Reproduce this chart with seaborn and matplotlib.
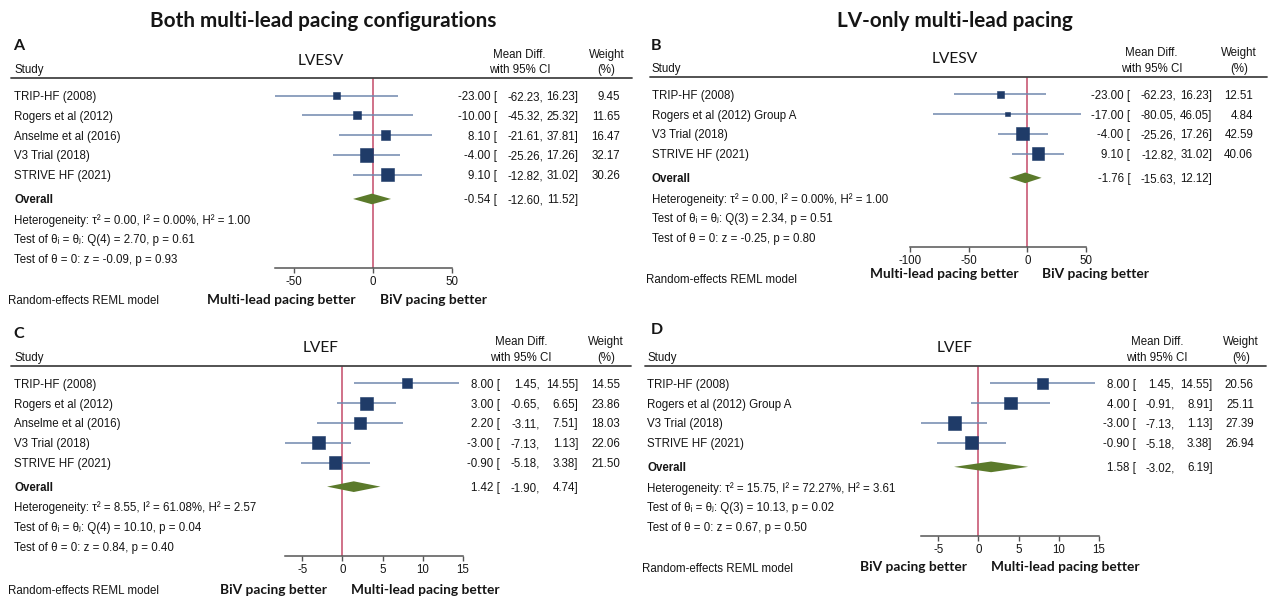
import numpy as np
import pandas as pd
import matplotlib.pyplot as plt
import seaborn as sns
from matplotlib import transforms
from matplotlib.lines import Line2D

sns.set_theme(style='white')
plt.rcParams['font.family'] = ['Liberation Sans', 'DejaVu Sans']
plt.rcParams['axes.unicode_minus'] = False

# ---- data ----
studies_a = ['TRIP-HF (2008)', 'Rogers et al (2012)', 'Anselme et al (2016)', 'V3 Trial (2018)', 'STRIVE HF (2021)']
md_a = [-23.00, -10.00, 8.10, -4.00, 9.10]
lo_a = [-62.23, -45.32, -21.61, -25.26, -12.82]
hi_a = [16.23, 25.32, 37.81, 17.26, 31.02]
wt_a = [9.45, 11.65, 16.47, 32.17, 30.26]
overall_a = [-0.54, -12.60, 11.52]
stats_a = ['Heterogeneity: τ² = 0.00, I² = 0.00%, H² = 1.00',
           'Test of θᵢ = θⱼ: Q(4) = 2.70, p = 0.61',
           'Test of θ = 0: z = -0.09, p = 0.93']
ticks_a = [-50, 0, 50]

studies_b = ['TRIP-HF (2008)', 'Rogers et al (2012) Group A', 'V3 Trial (2018)', 'STRIVE HF (2021)']
md_b = [-23.00, -17.00, -4.00, 9.10]
lo_b = [-62.23, -80.05, -25.26, -12.82]
hi_b = [16.23, 46.05, 17.26, 31.02]
wt_b = [12.51, 4.84, 42.59, 40.06]
overall_b = [-1.76, -15.63, 12.12]
stats_b = ['Heterogeneity: τ² = 0.00, I² = 0.00%, H² = 1.00',
           'Test of θᵢ = θⱼ: Q(3) = 2.34, p = 0.51',
           'Test of θ = 0: z = -0.25, p = 0.80']
ticks_b = [-100, -50, 0, 50]

studies_c = ['TRIP-HF (2008)', 'Rogers et al (2012)', 'Anselme et al (2016)', 'V3 Trial (2018)', 'STRIVE HF (2021)']
md_c = [8.00, 3.00, 2.20, -3.00, -0.90]
lo_c = [1.45, -0.65, -3.11, -7.13, -5.18]
hi_c = [14.55, 6.65, 7.51, 1.13, 3.38]
wt_c = [14.55, 23.86, 18.03, 22.06, 21.50]
overall_c = [1.42, -1.90, 4.74]
stats_c = ['Heterogeneity: τ² = 8.55, I² = 61.08%, H² = 2.57',
           'Test of θᵢ = θⱼ: Q(4) = 10.10, p = 0.04',
           'Test of θ = 0: z = 0.84, p = 0.40']
ticks_c = [-5, 0, 5, 10, 15]

studies_d = ['TRIP-HF (2008)', 'Rogers et al (2012) Group A', 'V3 Trial (2018)', 'STRIVE HF (2021)']
md_d = [8.00, 4.00, -3.00, -0.90]
lo_d = [1.45, -0.91, -7.13, -5.18]
hi_d = [14.55, 8.91, 1.13, 3.38]
wt_d = [20.56, 25.11, 27.39, 26.94]
overall_d = [1.58, -3.02, 6.19]
stats_d = ['Heterogeneity: τ² = 15.75, I² = 72.27%, H² = 3.61',
           'Test of θᵢ = θⱼ: Q(3) = 10.13, p = 0.02',
           'Test of θ = 0: z = 0.67, p = 0.50']
ticks_d = [-5, 0, 5, 10, 15]

# ---- colours / sizes ----
SQ = '#1f3b68'
CI = '#7088ad'
REF = '#c44a68'
DIA = '#5b7a2b'
TXT = '#151515'
AXC = '#555555'
BOLD = 'Lato'
STEP = 19.8

W, H = 1270, 601
fig = plt.figure(figsize=(W / 100, H / 100), dpi=100)
fig.patch.set_facecolor('white')
renderer = fig.canvas.get_renderer()


def fx(x):
    return x / W


def fy(y):
    return 1 - y / H


def fit(t, width):
    w = t.get_window_extent(renderer).width
    t.set_fontsize(t.get_fontsize() * width / w)
    return t.get_fontsize()


# body text size: heterogeneity line is ~235 px wide in the reference
_tmp = fig.text(0, 0, stats_a[0], fontsize=10)
FS = fit(_tmp, 235)
_tmp.remove()

bold_labels = []


def draw_panel(studies, md, lo, hi, wt, overall, stats, ticks, metric, lay):
    n = len(studies)
    top_r, bot_r = -0.88, n + 3.72
    y_top = lay['row0'] + top_r * STEP
    y_bot = lay['row0'] + bot_r * STEP
    x0, x1 = lay['plot']
    ax = fig.add_axes([fx(x0), fy(y_bot), (x1 - x0) / W, (y_bot - y_top) / H])
    ax.patch.set_visible(False)
    ax.set_xlim(min(min(lo), min(ticks)), max(max(hi), max(ticks)))
    ax.set_ylim(bot_r, top_r)
    rows = np.arange(n)

    ax.axvline(0, color=REF, lw=1.1, zorder=1)
    ax.hlines(rows, lo, hi, color=CI, lw=1.1, zorder=2)
    side = 13.2 * np.sqrt(np.array(wt) / max(wt))
    df = pd.DataFrame({'md': md, 'row': rows})
    sns.scatterplot(data=df, x='md', y='row', marker='s', s=(side * 0.72) ** 2,
                    color=SQ, edgecolor=SQ, linewidth=0.4, ax=ax, legend=False, zorder=3)
    m, l, h = overall
    yo = n + 0.22
    ax.fill([l, m, h, m], [yo, yo - 0.27, yo, yo + 0.27], color=DIA, lw=0, zorder=3)

    for s in ['left', 'top', 'right']:
        ax.spines[s].set_visible(False)
    ax.spines['bottom'].set_color(AXC)
    ax.spines['bottom'].set_linewidth(1.1)
    ax.set_yticks([])
    ax.set_xticks(ticks)
    ax.set_xticklabels([str(t) for t in ticks])
    ax.tick_params(axis='x', direction='out', length=3.5, width=1, color=AXC,
                   labelsize=8.3, pad=2, labelcolor=TXT, bottom=True)
    ax.set_xlabel('')
    ax.set_ylabel('')

    tr = transforms.blended_transform_factory(fig.transFigure, ax.transData)
    br, lr, hr, wr = lay['cols']
    kw = dict(transform=tr, va='center_baseline', fontsize=FS, color=TXT)
    for i in range(n):
        ax.text(fx(lay['left']), i, studies[i], ha='left', **kw)
        ax.text(fx(br), i, f'{md[i]:.2f} [', ha='right', **kw)
        ax.text(fx(lr), i, f'{lo[i]:.2f},', ha='right', **kw)
        ax.text(fx(hr), i, f'{hi[i]:.2f}]', ha='right', **kw)
        ax.text(fx(wr), i, f'{wt[i]:.2f}', ha='right', **kw)
    ax.text(fx(lay['left']), yo, 'Overall', ha='left', fontweight='bold', **kw)
    ax.text(fx(br), yo, f'{m:.2f} [', ha='right', **kw)
    ax.text(fx(lr), yo, f'{l:.2f},', ha='right', **kw)
    ax.text(fx(hr), yo, f'{h:.2f}]', ha='right', **kw)
    for k, s in enumerate(stats):
        ax.text(fx(lay['left']), n + 1.22 + k, s, ha='left', **kw)

    # header
    fig.add_artist(Line2D([fx(lay['hline'][0]), fx(lay['hline'][1])], [fy(y_top)] * 2,
                          color='#444444', lw=1.3))
    hk = dict(va='center_baseline', fontsize=FS, color=TXT)
    fig.text(fx(lay['left']), fy(y_top - 9.5), 'Study', ha='left', **hk)
    fig.text(fx(lay['mdc']), fy(y_top - 25), 'Mean Diff.', ha='center', **hk)
    fig.text(fx(lay['mdc']), fy(y_top - 9.5), 'with 95% CI', ha='center', **hk)
    fig.text(fx(lay['wtc']), fy(y_top - 25), 'Weight', ha='center', **hk)
    fig.text(fx(lay['wtc']), fy(y_top - 9.5), '(%)', ha='center', **hk)
    t = fig.text(fx(lay['metric_x']), fy(y_top - 17.5), metric, ha='center', va='center',
                 family=BOLD, fontsize=13, color=TXT)
    fit(t, 46 if metric == 'LVESV' else 36)
    fig.text(fx(lay['letter'][0]), fy(lay['letter'][1]), lay['name'], ha='left', va='center',
             family=BOLD, fontweight='bold', fontsize=11.5, color=TXT)

    # footer
    fig.text(fx(lay['re'][0]), fy(lay['re'][1]), 'Random-effects REML model', ha='left',
             va='center_baseline', fontsize=FS, color=TXT)
    (c1, c2), yb = lay['bold_x'], lay['bold_y']
    left_txt, right_txt = lay['bold_txt']
    bold_labels.append(fig.text(fx(c1), fy(yb), left_txt, ha='center', va='center',
                                family=BOLD, fontweight='bold', fontsize=10, color=TXT))
    bold_labels.append(fig.text(fx(c2), fy(yb), right_txt, ha='center', va='center',
                                family=BOLD, fontweight='bold', fontsize=10, color=TXT))


lay_a = dict(name='A', row0=95.6, plot=(275, 451.5), left=14.5, re=(8, 299.5),
             cols=(497, 543, 578.5, 620), mdc=519.5, wtc=606.5, hline=(11, 632),
             metric_x=321, letter=(13, 45.7), bold_x=(281.5, 433), bold_y=299.5,
             bold_txt=('Multi-lead pacing better', 'BiV pacing better'))
lay_b = dict(name='B', row0=94.3, plot=(910, 1086), left=652, re=(646, 278.3),
             cols=(1130.3, 1176.7, 1212.3, 1253.3), mdc=1151.7, wtc=1239.3, hline=(650, 1267),
             metric_x=954.6, letter=(651, 45.7), bold_x=(944.4, 1096), bold_y=274.3,
             bold_txt=('Multi-lead pacing better', 'BiV pacing better'))
lay_c = dict(name='C', row0=383.3, plot=(285, 463), left=14.5, re=(8, 589.5),
             cols=(500, 540, 578.5, 620), mdc=521, wtc=606, hline=(11, 631),
             metric_x=321, letter=(13, 334), bold_x=(274, 425.7), bold_y=589.5,
             bold_txt=('BiV pacing better', 'Multi-lead pacing better'))
lay_d = dict(name='D', row0=383.3, plot=(921, 1099), left=647, re=(642, 567.3),
             cols=(1136, 1174.4, 1212.5, 1253.9), mdc=1157, wtc=1241, hline=(645, 1266),
             metric_x=954.6, letter=(651, 329.5), bold_x=(913, 1065), bold_y=567.3,
             bold_txt=('BiV pacing better', 'Multi-lead pacing better'))

draw_panel(studies_a, md_a, lo_a, hi_a, wt_a, overall_a, stats_a, ticks_a, 'LVESV', lay_a)
draw_panel(studies_b, md_b, lo_b, hi_b, wt_b, overall_b, stats_b, ticks_b, 'LVESV', lay_b)
draw_panel(studies_c, md_c, lo_c, hi_c, wt_c, overall_c, stats_c, ticks_c, 'LVEF', lay_c)
draw_panel(studies_d, md_d, lo_d, hi_d, wt_d, overall_d, stats_d, ticks_d, 'LVEF', lay_d)

# bold footer labels share one size, fitted on the long label
size = fit(bold_labels[0], 148)
for t in bold_labels:
    t.set_fontsize(size)

t1 = fig.text(fx(323), fy(21), 'Both multi-lead pacing configurations', ha='center', va='center',
              family=BOLD, fontweight='bold', fontsize=14, color=TXT)
tsize = fit(t1, 350)
fig.text(fx(955), fy(21), 'LV-only multi-lead pacing', ha='center', va='center',
         family=BOLD, fontweight='bold', fontsize=tsize, color=TXT)

fig.savefig('out.png', dpi=100, facecolor='white')
